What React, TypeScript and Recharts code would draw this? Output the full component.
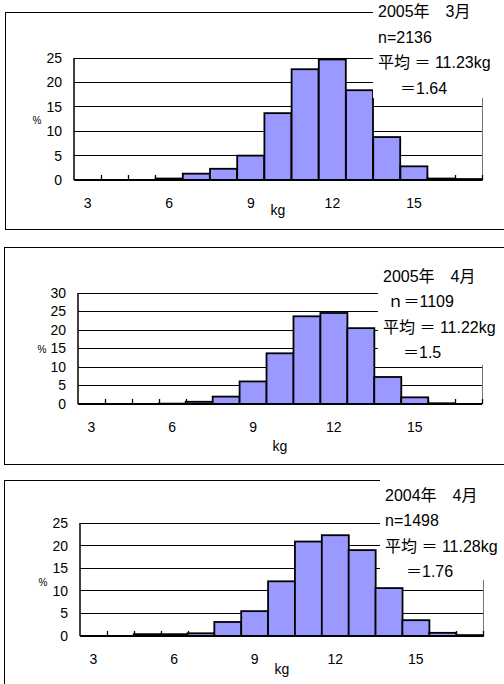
import React from "react";
import { BarChart, Bar, XAxis, YAxis, CartesianGrid } from "recharts";

// weight classes (kg)
const kgBins = [3, 4, 5, 6, 7, 8, 9, 10, 11, 12, 13, 14, 15, 16, 17];
const kgLabels = [3, 6, 9, 12, 15];

// share of fish (%) per class
const mar2005 = [0, 0, 0, 0.3, 1.3, 2.3, 5.0, 13.7, 22.7, 24.7, 18.4, 8.8, 2.8, 0.3, 0.2];
const apr2005 = [0, 0, 0, 0.1, 0.6, 2.0, 6.1, 13.7, 23.7, 24.6, 20.5, 7.3, 1.8, 0.2, 0];
const apr2004 = [0, 0, 0.4, 0.4, 0.6, 3.1, 5.5, 12.1, 20.9, 22.3, 19.0, 10.6, 3.5, 0.7, 0.2];

const ticks25 = [0, 5, 10, 15, 20, 25];
const ticks30 = [0, 5, 10, 15, 20, 25, 30];

const info2005Mar = ["2005年\u30003月", "n=2136", "平均 ＝ 11.23kg", "＝1.64"];
const info2005Apr = ["2005年\u30004月", " ｎ＝1109", "平均 ＝ 11.22kg", "＝1.5"];
const info2004Apr = ["2004年\u30004月", "n=1498", "平均 ＝ 11.28kg", "＝1.76"];

const latin = "'Liberation Sans', Arial, 'Noto Sans CJK JP', sans-serif";

const KgTick = (props: any) => {
  const { x, y, payload } = props;
  if (!kgLabels.includes(Number(payload.value))) return <g />;
  return (
    <text x={x} y={y + 28} textAnchor="middle" fontSize={14} fontFamily={latin} fill="#000">
      {payload.value}
    </text>
  );
};

// bar plus the short tick mark on its right border, on the axis
const HistBar = (props: any) => {
  const { x, y, width, height } = props;
  const base = y + height;
  const bx = Math.round(x + width) + 0.5;
  return (
    <g>
      {height > 0 && (
        <rect x={x} y={y} width={width} height={height} fill="#9999ff" stroke="#000" strokeWidth={1.8} />
      )}
      <line x1={bx} x2={bx} y1={base} y2={base - 5} stroke="#000" strokeWidth={1.3} />
    </g>
  );
};

interface PanelProps {
  values: number[];
  ticks: number[];
  info: string[];
  top: number;
  height: number;
  plot: { left: number; right: number; top: number; bottom: number };
  frame: { left: number; top: number; right: number; bottom: number };
  box: { left: number; top: number; bottom: number; textX: number; textY: number; lh: number; indent: number };
  pct: [number, number];
  kg: [number, number];
}

const Panel = ({ values, ticks, info, top, height, plot, frame, box, pct, kg }: PanelProps) => {
  const data = kgBins.map((k, i) => ({ kg: k, pct: values[i] }));
  const yMax = ticks[ticks.length - 1];
  return (
    <>
      <div
        style={{
          position: "absolute",
          left: frame.left,
          top: frame.top,
          width: frame.right - frame.left - 1,
          height: frame.bottom - frame.top - 1,
          border: "1px solid #000",
        }}
      />
      <div
        style={{
          position: "absolute",
          left: plot.right,
          top: plot.top,
          width: 0,
          height: plot.bottom - plot.top,
          borderLeft: "1px solid #777",
        }}
      />
      <div style={{ position: "absolute", left: 0, top }}>
        <BarChart
          width={504}
          height={height}
          data={data}
          barCategoryGap={0}
          margin={{ top: plot.top - top, right: 504 - plot.right, bottom: 0, left: 0 }}
        >
          <CartesianGrid horizontal vertical={false} stroke="#000" strokeWidth={1} />
          <XAxis
            dataKey="kg"
            interval={0}
            height={height - (plot.bottom - top)}
            tickLine={false}
            tickSize={0}
            tickMargin={0}
            axisLine={{ stroke: "#000", strokeWidth: 2 }}
            tick={<KgTick />}
          />
          <YAxis
            domain={[0, yMax]}
            ticks={ticks}
            interval={0}
            width={plot.left}
            tickLine={false}
            tickMargin={6}
            axisLine={{ stroke: "#000", strokeWidth: 1.5 }}
            tick={{ fontSize: 14, fontFamily: latin, fill: "#000" }}
          />
          <Bar dataKey="pct" shape={<HistBar />} isAnimationActive={false} />
        </BarChart>
      </div>
      <div
        style={{
          position: "absolute",
          left: box.left,
          top: box.top,
          width: 504 - box.left,
          height: box.bottom - box.top,
          background: "#fff",
        }}
      />
      <div
        style={{
          position: "absolute",
          left: box.textX,
          top: box.textY,
          fontSize: 16,
          lineHeight: `${box.lh}px`,
          fontFamily: latin,
          color: "#000",
          whiteSpace: "pre",
        }}
      >
        {info.map((line, i) => (
          <div key={i} style={{ paddingLeft: i === 3 ? box.indent : 0 }}>
            {line}
          </div>
        ))}
      </div>
      <span
        style={{
          position: "absolute",
          left: pct[0],
          top: pct[1],
          transform: "translate(-50%, -50%)",
          fontSize: 10,
          fontFamily: latin,
        }}
      >
        %
      </span>
      <span
        style={{
          position: "absolute",
          left: kg[0],
          top: kg[1],
          transform: "translate(-50%, -50%)",
          fontSize: 14,
          fontFamily: latin,
        }}
      >
        kg
      </span>
    </>
  );
};

export default function App() {
  return (
    <div style={{ position: "absolute", left: 0, top: 0, width: 504, height: 684, overflow: "hidden", background: "#fff" }}>
      <style>{".recharts-cartesian-grid line { shape-rendering: crispEdges; }"}</style>
      <Panel
        values={mar2005}
        ticks={ticks25}
        info={info2005Mar}
        top={0}
        height={228}
        plot={{ left: 74, right: 482, top: 58, bottom: 180 }}
        frame={{ left: 5, top: 12, right: 504, bottom: 229 }}
        box={{ left: 373, top: 0, bottom: 98, textX: 378, textY: -1, lh: 25.7, indent: 22 }}
        pct={[37, 120]}
        kg={[278, 210]}
      />
      <Panel
        values={apr2005}
        ticks={ticks30}
        info={info2005Apr}
        top={232}
        height={231}
        plot={{ left: 78, right: 482, top: 293, bottom: 404 }}
        frame={{ left: 4, top: 247, right: 504, bottom: 464 }}
        box={{ left: 378, top: 258, bottom: 365, textX: 383, textY: 264, lh: 25.3, indent: 20 }}
        pct={[42, 349]}
        kg={[280, 446]}
      />
      <Panel
        values={apr2004}
        ticks={ticks25}
        info={info2004Apr}
        top={470}
        height={214}
        plot={{ left: 80, right: 483, top: 523, bottom: 636 }}
        frame={{ left: 4, top: 480, right: 505, bottom: 700 }}
        box={{ left: 380, top: 476, bottom: 580, textX: 385, textY: 483, lh: 25.3, indent: 21 }}
        pct={[43, 582]}
        kg={[282, 669]}
      />
    </div>
  );
}
